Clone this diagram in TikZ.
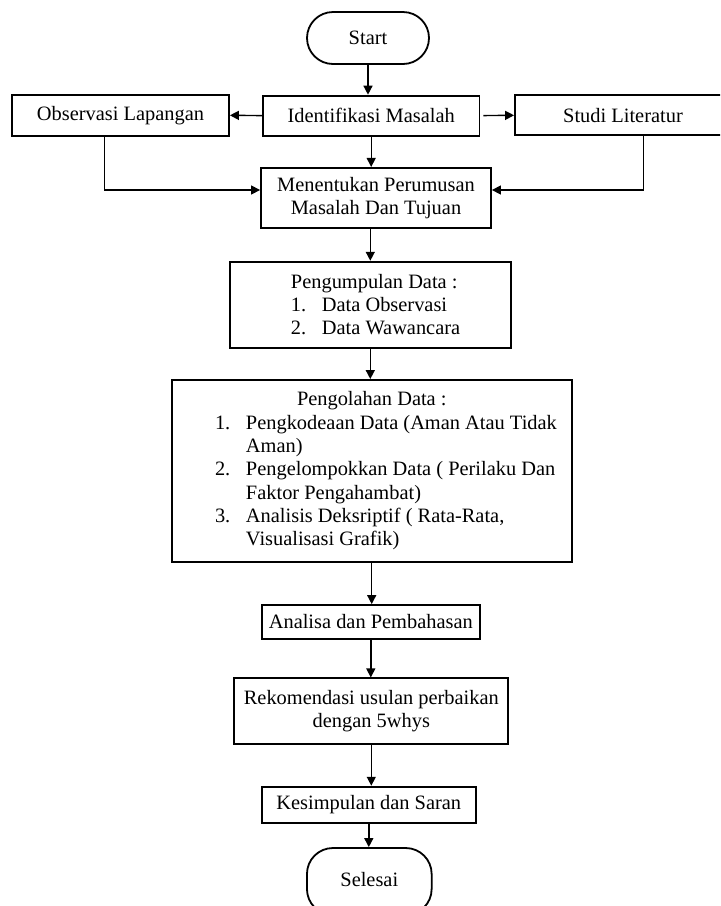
\documentclass[tikz,border=0pt]{standalone}
\usepackage{fontspec}
\setmainfont{Liberation Serif}
\usetikzlibrary{arrows.meta}
\begin{document}
\begin{tikzpicture}[x=0.5pt,y=-0.5pt,
  box/.style={draw, line width=0.9pt, inner sep=0pt, align=center, font=\fontsize{10.2}{11.65}\selectfont},
  term/.style={box, rounded corners=13pt},
  arr/.style={line width=0.7pt, -{Triangle[length=4.5pt,width=4.5pt]}}]
\useasboundingbox (0,0) rectangle (720,906);
\clip (0,0) rectangle (720,906);

\node[term, minimum width=61pt, minimum height=26pt] (start) at (368,38) {Start};
\node[box, minimum width=108.25pt, minimum height=20pt] (ident) at (371.2,115.6) {Identifikasi Masalah};
\node[box, minimum width=108.5pt, minimum height=20.35pt] (obs) at (120.5,115.3) {Observasi Lapangan};
\node[box, minimum width=108pt, minimum height=20pt] (studi) at (623,115.3) {Studi Literatur};
\node[box, minimum width=115pt, minimum height=30.15pt] (menen) at (376,198) {Menentukan Perumusan\\Masalah Dan Tujuan};
\node[box, minimum width=140.35pt, minimum height=43pt] (kumpul) at (370.3,304.7)
  {\makebox[140.35pt][l]{\hspace*{30.5pt}\begin{minipage}[c]{100pt}\raggedright
   Pengumpulan Data :\\
   \makebox[15.5pt][l]{1.}Data Observasi\\
   \makebox[15.5pt][l]{2.}Data Wawancara
   \end{minipage}}};
\node[box, minimum width=200pt, minimum height=90.85pt] (olah) at (371.7,470.8)
  {\makebox[200pt][l]{\hspace*{21.65pt}\begin{minipage}[c]{180pt}\raggedright
   \hspace*{41pt}Pengolahan Data :\\
   \makebox[15.5pt][l]{1.}Pengkodeaan Data (Aman Atau Tidak\\
   \hspace*{15.5pt}Aman)\\
   \makebox[15.5pt][l]{2.}Pengelompokkan Data ( Perilaku Dan\\
   \hspace*{15.5pt}Faktor Pengahambat)\\
   \makebox[15.5pt][l]{3.}Analisis Deksriptif ( Rata-Rata,\\
   \hspace*{15.5pt}Visualisasi Grafik)
   \end{minipage}}};
\node[box, minimum width=109.15pt, minimum height=17pt] (analisa) at (370.8,622) {Analisa dan Pembahasan};
\node[box, minimum width=137pt, minimum height=32.85pt] (rekom) at (371.3,711.2) {Rekomendasi usulan perbaikan\\dengan 5whys};
\node[box, minimum width=107.15pt, minimum height=18.15pt] (kesim) at (368.8,804.8) {Kesimpulan dan Saran};
\node[term, minimum width=62.35pt, minimum height=33.5pt, text depth=0pt] (selesai) at (369.3,881.5) {\raisebox{2.5pt}{Selesai}};

\draw[arr] (start.south) -- (start.south |- ident.north);
\draw[arr] (ident.west) -- (obs.east);
\draw[arr, shorten <=1.5pt] (ident.east) -- (studi.west);
\draw[arr] (ident.south) -- (ident.south |- menen.north);
\draw[arr] ([xshift=-8.1pt]obs.south) |- ([yshift=4pt]menen.west);
\draw[arr] ([xshift=10.15pt]studi.south) |- ([yshift=4pt]menen.east);
\draw[arr] (kumpul.north |- menen.south) -- (kumpul.north);
\draw[arr] (kumpul.south) -- (kumpul.south |- olah.north);
\draw[arr] (olah.south) -- (olah.south |- analisa.north);
\draw[arr] (analisa.south) -- (analisa.south |- rekom.north);
\draw[arr] (rekom.south) -- (rekom.south |- kesim.north);
\draw[arr] (kesim.south) -- (kesim.south |- selesai.north);
\end{tikzpicture}
\end{document}
